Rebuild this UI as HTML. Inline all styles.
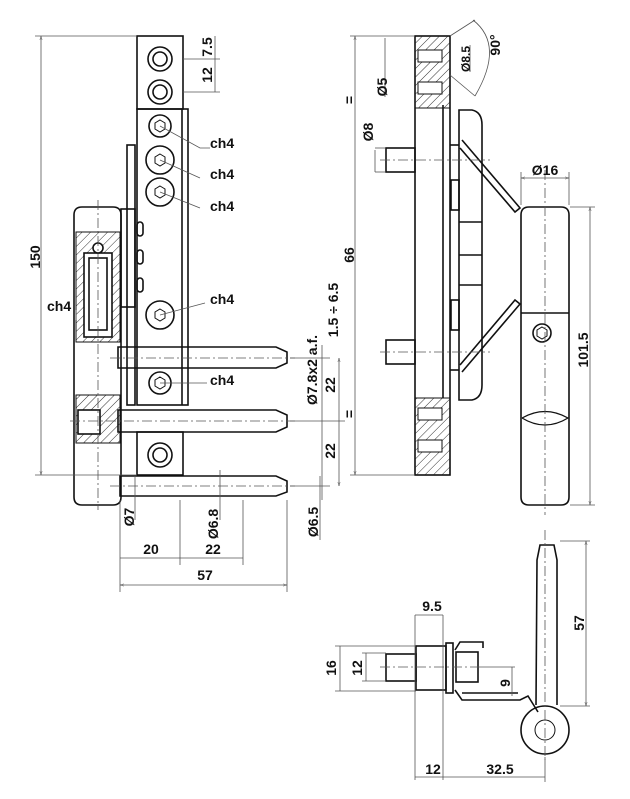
<!DOCTYPE html>
<html><head><meta charset="utf-8"><style>
html,body{margin:0;padding:0;background:#fff;}
svg{display:block;}
text{font-family:"Liberation Sans","DejaVu Sans",sans-serif;font-weight:bold;font-size:14px;fill:#111;}
</style></head><body>
<svg width="630" height="799" viewBox="0 0 630 799" xmlns="http://www.w3.org/2000/svg">
<defs>
<pattern id="h" width="6" height="6" patternUnits="userSpaceOnUse" patternTransform="rotate(45)">
<line x1="0" y1="0" x2="0" y2="6" stroke="#333" stroke-width="1"/></pattern>
<marker id="a" viewBox="0 0 10 10" refX="10" refY="5" markerWidth="5" markerHeight="5" orient="auto-start-reverse"><path d="M0,2 L10,5 L0,8" fill="none" stroke="#555"/></marker>
</defs>
<g fill="none" stroke="#111" stroke-width="1.6">
<!-- LEFT VIEW -->
<rect x="137" y="36" width="46" height="73"/>
<circle cx="160" cy="59" r="12"/><circle cx="160" cy="59" r="7"/>
<circle cx="160" cy="92" r="12"/><circle cx="160" cy="92" r="7"/>
<rect x="137" y="109" width="51" height="296"/>
<line x1="182" y1="109" x2="182" y2="405"/>
<rect x="127" y="145" width="8" height="260"/>
<rect x="121" y="209" width="14" height="98"/>
<circle cx="160" cy="126" r="11"/><circle cx="160" cy="160" r="14"/><circle cx="160" cy="192" r="14"/>
<circle cx="160" cy="315" r="14"/><circle cx="160" cy="383" r="11"/>
<g stroke-width="1">
<polygon points="160,120 165,123 165,129 160,132 155,129 155,123"/>
<polygon points="160,154 165,157 165,163 160,166 155,163 155,157"/>
<polygon points="160,186 165,189 165,195 160,198 155,195 155,189"/>
<polygon points="160,309 165,312 165,318 160,321 155,318 155,312"/>
<polygon points="160,377 165,380 165,386 160,389 155,386 155,380"/>
</g>
<rect x="137" y="222" width="6" height="14" rx="3"/><rect x="137" y="250" width="6" height="14" rx="3"/><rect x="137" y="278" width="6" height="14" rx="3"/>
<rect x="137" y="432" width="46" height="43"/>
<circle cx="160" cy="455" r="12"/><circle cx="160" cy="455" r="7"/>
<!-- barrel -->
<path d="M74,215 Q74,207 82,207 L113,207 Q121,207 121,215 L121,497 Q121,505 113,505 L82,505 Q74,505 74,497 Z"/>
<rect x="76" y="232" width="44" height="110" fill="url(#h)" stroke-width="1"/>
<rect x="84" y="253" width="28" height="84" fill="#fff"/>
<rect x="89" y="258" width="18" height="72" fill="#fff"/>
<circle cx="98" cy="248" r="5" fill="#fff"/>
<rect x="76" y="395" width="44" height="48" fill="url(#h)" stroke-width="1"/>
<rect x="78" y="410" width="22" height="24" fill="#fff"/>
<!-- pins -->
<path d="M118,347 L276,347 L287,352 L287,363 L276,368 L118,368 Z"/>
<path d="M118,410 L276,410 L287,415 L287,427 L276,432 L118,432 Z"/>
<path d="M120,476 L276,476 L287,481 L287,492 L276,496 L120,496 Z"/>
</g>
<g stroke="#555" stroke-width="0.8" fill="none">
<line x1="98" y1="200" x2="98" y2="510" stroke-dasharray="10,3,2,3"/>
<line x1="110" y1="358" x2="295" y2="358" stroke-dasharray="10,3,2,3"/>
<line x1="70" y1="421" x2="295" y2="421" stroke-dasharray="10,3,2,3"/>
<line x1="110" y1="486" x2="295" y2="486" stroke-dasharray="10,3,2,3"/>
<line x1="35" y1="36" x2="137" y2="36"/><line x1="35" y1="475" x2="137" y2="475"/>
<line x1="41" y1="36" x2="41" y2="475" marker-start="url(#a)" marker-end="url(#a)"/>
<line x1="183" y1="59" x2="220" y2="59"/><line x1="183" y1="92" x2="220" y2="92"/>
<line x1="215" y1="36" x2="215" y2="92"/>
<line x1="290" y1="358" x2="330" y2="358"/><line x1="290" y1="421" x2="345" y2="421"/><line x1="290" y1="486" x2="330" y2="486"/>
<line x1="322" y1="345" x2="322" y2="500"/>
<line x1="339" y1="358" x2="339" y2="486" marker-start="url(#a)" marker-end="url(#a)"/>
<line x1="320" y1="476" x2="320" y2="540"/>
<line x1="135" y1="520" x2="135" y2="476"/><line x1="220" y1="520" x2="220" y2="470"/>
<line x1="120" y1="500" x2="120" y2="592"/><line x1="180" y1="500" x2="180" y2="565"/><line x1="243" y1="500" x2="243" y2="565"/><line x1="287" y1="500" x2="287" y2="592"/>
<line x1="120" y1="558" x2="243" y2="558"/>
<line x1="120" y1="585" x2="287" y2="585" marker-start="url(#a)" marker-end="url(#a)"/>
<path d="M160,126 L200,148 L210,148"/><path d="M160,160 L200,178"/><path d="M160,192 L200,208"/><path d="M160,315 L205,303"/><path d="M160,383 L207,383"/>
<path d="M76,310 L76,320"/>
</g>
<g fill="none" stroke="#111" stroke-width="1.6">
<!-- MIDDLE VIEW -->
<rect x="415" y="36" width="35" height="439"/>
<line x1="443" y1="105" x2="443" y2="398"/>
<rect x="415" y="36" width="35" height="72" fill="url(#h)" stroke-width="1"/>
<rect x="415" y="398" width="35" height="77" fill="url(#h)" stroke-width="1"/>
<rect x="418" y="50" width="24" height="12" fill="#fff" stroke-width="1"/><rect x="418" y="82" width="24" height="12" fill="#fff" stroke-width="1"/>
<rect x="418" y="408" width="24" height="12" fill="#fff" stroke-width="1"/><rect x="418" y="440" width="24" height="12" fill="#fff" stroke-width="1"/>
<rect x="386" y="148" width="29" height="24"/><rect x="386" y="340" width="29" height="24"/>
<path d="M459,110 L472,110 Q482,112 482,125 L482,385 Q482,398 472,400 L459,400 Z"/>
<line x1="450" y1="145" x2="459" y2="145"/><line x1="450" y1="370" x2="459" y2="370"/>
<rect x="451" y="180" width="8" height="30"/><rect x="451" y="300" width="8" height="30"/>
<line x1="459" y1="222" x2="482" y2="222"/><line x1="459" y1="255" x2="482" y2="255"/><line x1="459" y1="285" x2="482" y2="285"/>
<path d="M462,140 L520,208 L515,212 L460,148"/>
<path d="M462,372 L520,304 L515,300 L460,365"/>
<path d="M521,215 Q521,207 529,207 L561,207 Q569,207 569,215 L569,497 Q569,505 561,505 L529,505 Q521,505 521,497 Z"/>
<line x1="521" y1="313" x2="569" y2="313"/>
<circle cx="542" cy="333" r="9"/><polygon points="542,327 547,330 547,336 542,339 537,336 537,330" stroke-width="1"/>
<path d="M522,418 Q545,405 568,418 Q545,432 522,418" stroke-width="1.2"/>
<!-- BOTTOM VIEW -->
<rect x="386" y="654" width="30" height="27"/>
<rect x="416" y="646" width="30" height="44"/>
<rect x="446" y="643" width="7" height="50"/>
<path d="M455,650 L460,642 L483,642 L483,648"/>
<rect x="456" y="652" width="22" height="30"/>
<path d="M455,690 L462,700 L520,700 L528,696 L538,712"/>
<path d="M462,693 L518,693"/>
<path d="M536,705 L537,560 L540,545 L554,545 L557,560 L557,705"/>
<circle cx="545" cy="730" r="24"/><circle cx="545" cy="730" r="10" stroke-width="1"/>
</g>
<g stroke="#555" stroke-width="0.8" fill="none">
<line x1="545" y1="170" x2="545" y2="515" stroke-dasharray="10,3,2,3"/>
<line x1="380" y1="160" x2="490" y2="160" stroke-dasharray="10,3,2,3"/>
<line x1="380" y1="352" x2="490" y2="352" stroke-dasharray="10,3,2,3"/>
<line x1="350" y1="36" x2="415" y2="36"/><line x1="350" y1="475" x2="415" y2="475"/>
<line x1="355" y1="36" x2="355" y2="475" marker-start="url(#a)" marker-end="url(#a)"/>
<line x1="385" y1="38" x2="385" y2="97"/><line x1="375" y1="150" x2="375" y2="172"/>
<line x1="385" y1="148" x2="375" y2="148"/><line x1="385" y1="172" x2="375" y2="172"/>
<line x1="470" y1="45" x2="470" y2="72"/>
<path d="M473,20 Q505,45 475,96"/>
<line x1="450" y1="36" x2="475" y2="20"/><line x1="450" y1="75" x2="475" y2="96"/>
<line x1="521" y1="178" x2="569" y2="178" marker-start="url(#a)" marker-end="url(#a)"/>
<line x1="521" y1="205" x2="521" y2="172"/><line x1="569" y1="205" x2="569" y2="172"/>
<line x1="570" y1="207" x2="595" y2="207"/><line x1="570" y1="505" x2="595" y2="505"/>
<line x1="590" y1="207" x2="590" y2="505" marker-start="url(#a)" marker-end="url(#a)"/>
<line x1="415" y1="615" x2="415" y2="780"/><line x1="443" y1="615" x2="443" y2="780"/>
<line x1="415" y1="615" x2="443" y2="615"/>
<line x1="335" y1="646" x2="416" y2="646"/><line x1="335" y1="691" x2="416" y2="691"/>
<line x1="340" y1="646" x2="340" y2="691"/>
<line x1="362" y1="653" x2="386" y2="653"/><line x1="362" y1="681" x2="386" y2="681"/>
<line x1="366" y1="653" x2="366" y2="681"/>
<line x1="480" y1="667" x2="515" y2="667"/><line x1="512" y1="667" x2="512" y2="696"/>
<line x1="380" y1="667" x2="480" y2="667" stroke-dasharray="10,3,2,3"/>
<line x1="560" y1="541" x2="590" y2="541"/><line x1="560" y1="706" x2="590" y2="706"/>
<line x1="586" y1="541" x2="586" y2="706" marker-start="url(#a)" marker-end="url(#a)"/>
<line x1="545" y1="530" x2="545" y2="760" stroke-dasharray="10,3,2,3"/>
<line x1="545" y1="757" x2="545" y2="782"/>
<line x1="415" y1="777" x2="545" y2="777"/>
</g>
<text x="210" y="148">ch4</text><text x="210" y="179">ch4</text><text x="210" y="211">ch4</text>
<text x="210" y="304">ch4</text><text x="210" y="385">ch4</text><text x="47" y="311">ch4</text>
<text transform="translate(40,257) rotate(-90)" text-anchor="middle">150</text>
<text transform="translate(212,47) rotate(-90)" text-anchor="middle">7.5</text>
<text transform="translate(212,75) rotate(-90)" text-anchor="middle">12</text>
<text transform="translate(317,370) rotate(-90)" text-anchor="middle">Ø7.8x2 a.f.</text>
<text transform="translate(335,385) rotate(-90)" text-anchor="middle">22</text>
<text transform="translate(335,451) rotate(-90)" text-anchor="middle">22</text>
<text transform="translate(318,522) rotate(-90)" text-anchor="middle">Ø6.5</text>
<text transform="translate(134,517) rotate(-90)" text-anchor="middle">Ø7</text>
<text transform="translate(218,524) rotate(-90)" text-anchor="middle">Ø6.8</text>
<text x="151" y="554" text-anchor="middle">20</text><text x="213" y="554" text-anchor="middle">22</text>
<text x="205" y="580" text-anchor="middle">57</text>
<text transform="translate(354,100) rotate(-90)" text-anchor="middle">=</text>
<text transform="translate(354,414) rotate(-90)" text-anchor="middle">=</text>
<text transform="translate(354,255) rotate(-90)" text-anchor="middle">66</text>
<text transform="translate(338,310) rotate(-90)" text-anchor="middle">1.5 ÷ 6.5</text>
<text transform="translate(387,87) rotate(-90)" text-anchor="middle">Ø5</text>
<text transform="translate(373,132) rotate(-90)" text-anchor="middle">Ø8</text>
<text transform="translate(470,59) rotate(-90)" text-anchor="middle" style="font-size:12px">Ø8.5</text>
<text transform="translate(500,45) rotate(-90)" text-anchor="middle">90°</text>
<text x="545" y="175" text-anchor="middle">Ø16</text>
<text transform="translate(588,350) rotate(-90)" text-anchor="middle">101.5</text>
<text x="432" y="611" text-anchor="middle">9.5</text>
<text transform="translate(336,668) rotate(-90)" text-anchor="middle">16</text>
<text transform="translate(362,668) rotate(-90)" text-anchor="middle">12</text>
<text transform="translate(510,683) rotate(-90)" text-anchor="middle">9</text>
<text transform="translate(584,623) rotate(-90)" text-anchor="middle">57</text>
<text x="433" y="774" text-anchor="middle">12</text>
<text x="500" y="774" text-anchor="middle">32.5</text>
</svg>
</body></html>
